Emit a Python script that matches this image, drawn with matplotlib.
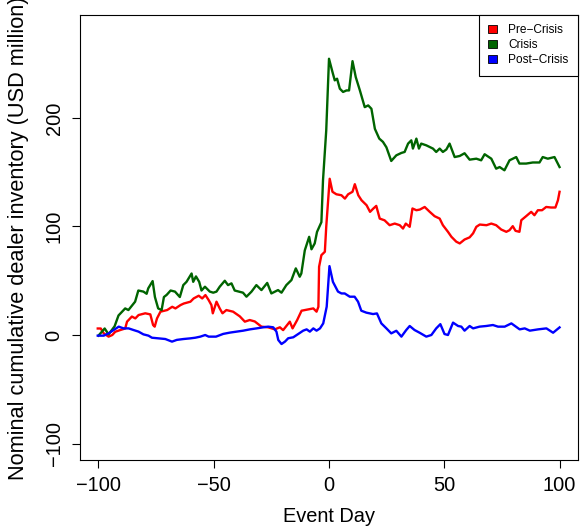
import numpy as np
import matplotlib.pyplot as plt
from matplotlib.patches import Patch

plt.rcParams['font.family'] = ['Liberation Sans', 'DejaVu Sans']

# Crisis (green)
day_c = [-100, -97.3, -95.6, -93, -91.3, -88.4, -87, -84.1, -82.7, -80.5, -79.1, -78.4, -76.5, -75.5,
         -74.1, -72.6, -71.6, -70.4, -68.7, -66.8, -64.7, -63.2, -61.8, -59.6, -58.9, -57.7, -56.3,
         -55.3, -53.8, -51.7, -50.2, -48.8, -47.4, -45.2, -43.8, -42.3, -40.9, -37.3, -35.8, -33.6,
         -31.5, -29.3, -26.8, -25, -22.1, -20.6, -18.5, -16.3, -14.4, -12.7, -12, -10.5, -8.6, -7.6,
         -6.2, -5.2, -3.3, -2.6, -1.2, 0, 1.5, 2.5, 3.5, 4.7, 6.1, 7.6, 8.7, 10.2, 11.6, 13.4, 15.5,
         17, 18.4, 19.9, 21.8, 23.4, 24.9, 27, 29.2, 31.4, 32.8, 34.3, 35.7, 36.4, 37.9, 39, 40, 42.2,
         45.1, 46.5, 48, 49.4, 50.9, 52.3, 54.5, 56.7, 58.8, 61, 63.9, 66, 67.5, 70.4, 72.5, 74, 76.1,
         78.3, 81.2, 82.6, 85.5, 88.4, 91.3, 92.7, 94.9, 97.8, 100]
inv_c = [-0.6, 6, 0.6, 8, 18, 24.5, 23, 30.7, 41, 40, 38, 43, 49.7, 35,
         24.5, 23, 35, 37, 41, 40, 35, 46, 49, 56.7, 49, 54, 49,
         41, 44.5, 40, 39, 40, 44.5, 50, 46, 47.6, 41, 39, 35.3, 40,
         46, 41.4, 48, 38.3, 41.4, 39, 46, 50.6, 61.4, 53.7, 56.7, 78, 90.5, 79,
         84.4, 95, 104, 142.6, 188.6, 254.6, 242.4, 234.7, 236.2, 227, 224, 225.4, 225.4, 252.4, 237.7, 225.4, 210,
         211.6, 208.5, 190, 181, 178, 173, 160.4, 165.6, 167.8, 168.7, 176.4, 179.4, 171.8, 181, 171.8, 176.4, 174.8,
         171.8, 168.7, 171.8, 168.7, 171, 176.4, 164, 165, 167.5, 161.6, 162.5, 161, 166.6, 162.5, 153.3, 154.8, 151.8,
         161, 164, 158, 158, 159, 159, 164, 162.5, 164, 154.8]

# Pre-Crisis (red)
day_p = [-100.3, -99, -97.7, -95.6, -94, -92.7, -90.5, -88.4, -87.6, -85.5, -84, -82.6, -79.7, -77.5,
         -76.3, -75.6, -74.6, -73.1, -70.2, -68, -66.6, -64.4, -63, -60.1, -58.7, -56.5, -55, -53.6,
         -52.2, -51, -50.4, -48.8, -47.4, -46.2, -44.5, -41.6, -38.7, -36.5, -34.4, -32.2, -29.3, -26.4,
         -23.5, -21.3, -19.9, -17, -15.8, -13.8, -11.9, -9, -6.8, -5.4, -4.6, -4.3, -3.3, -1.8, -1.2,
         0.3, 1.5, 3.2, 5.4, 6.9, 8.3, 10.2, 11.2, 12.7, 14.1, 16.3, 17.8, 19.2, 20.5, 22, 24.1, 26.3,
         28.5, 30.7, 32.1, 33.3, 35, 36.2, 37.9, 39.4, 41.5, 43.7, 45.8, 48, 49.4, 51.6, 53.1, 55.2,
         56.7, 58.8, 61, 62.5, 63.9, 65.4, 68.3, 70.4, 72.5, 74.7, 76.9, 78.3, 79.7, 80.9, 82.6, 83.4,
         85.5, 87.7, 89.1, 90.6, 92.4, 94.2, 96.3, 98.2, 99.3, 100]
inv_p = [6, 6, 1.5, -1.5, 0, 3, 4.6, 6, 12.3, 17, 15.3, 18.4, 20, 19,
         9.2, 7.7, 15.3, 21.5, 23, 26, 24.5, 27.6, 29, 30.7, 33.7, 36.2, 33.7, 36.8,
         32.2, 27.6, 20, 30.7, 24.5, 20, 23, 21.5, 17.2, 12.3, 13.8, 12.5, 7.7, 7.1,
         5.2, 7.1, 4.5, 12.3, 6.1, 13.8, 22.4, 23.6, 24.5, 21.5, 26, 62.9, 73.6, 76.7, 99.7,
         144, 132, 129.7, 128.8, 125.7, 129.7, 132, 139, 128.8, 124.2, 119.6, 113.5, 116.5, 119, 107.3, 105.7, 101.2,
         102.7, 101.2, 98.1, 102.7, 99.7, 116.6, 115, 115.6, 118, 113.5, 109.5, 107.3, 101.2, 95.1, 90.5, 86,
         84.4, 88, 90, 93.7, 99.7, 101.8, 101.2, 102.7, 101.2, 97.2, 95.1, 96.6, 100.3, 96, 95.1, 105.8,
         109.5, 113.5, 110.4, 115, 115, 118, 117.5, 117.5, 124.2, 132]

# Post-Crisis (blue)
day_q = [-100.3, -97.7, -95.6, -93.4, -91.2, -89.1, -86.9, -84.8, -82.6, -80.5, -78.3, -76.8, -73.9,
         -71, -68.1, -66, -63.1, -60.2, -58, -55.8, -53.7, -52.2, -49, -45.9, -43, -40.1, -37.2, -34.3,
         -31.4, -28.5, -26.4, -24.2, -22.8, -22, -20.6, -19.1, -17.7, -15.5, -13.3, -11.2, -9.7, -8.3,
         -6.8, -5.4, -3.9, -2.5, -1, 0.2, 1.7, 3.9, 5.4, 6.8, 9, 11.1, 12.6, 14, 16.2, 19.1, 20.8, 22.7,
         24.9, 27, 29.2, 31.4, 33.5, 35, 37.1, 39.3, 42.2, 44.4, 46.5, 48.3, 50.1, 51.6, 53.8, 56, 57.4,
         58.8, 61, 62.5, 65.3, 68.2, 71.1, 73.3, 76.2, 79.1, 82.7, 84.9, 87.1, 90.7, 94.3, 97.2, 100]
inv_q = [-0.6, -0.6, 1.5, 4.6, 7.7, 6.1, 6.1, 4.6, 3.1, 0.6, -0.6, -2.5, -3.1,
         -3.7, -6.1, -4.5, -3.7, -3.1, -2.5, -1.5, 0, -1.5, -1.5, 1, 2.2, 3.1, 4, 5.2,
         6.1, 7.1, 7.7, 7.1, 3.1, -4.6, -8.3, -6.1, -3, -2.1, 1, 4, 5.2, 3.1,
         6.1, 4, 6.1, 10.7, 26.1, 63.5, 49, 40, 38.3, 38.3, 35.3, 35.3, 30.7, 22.4, 20.6, 19.3, 19.9, 10.7,
         6.1, 1.5, 3.9, -1.5, 4.6, 8.3, 4.6, 2.1, -1.5, 0, 6.1, 10, 0.9, 0, 11.4, 8.3, 7.7,
         4, 8.3, 6.1, 7.7, 8.3, 9.2, 7.7, 7.7, 10.7, 5.2, 6.1, 4, 5.2, 6.1, 2.1, 7]

labels = ['Pre\u2212Crisis', 'Crisis', 'Post\u2212Crisis']
colors = ['#FF0000', '#006400', '#0000FF']

fig = plt.figure(figsize=(5.81, 5.30), dpi=100)
ax = fig.add_axes([80/581, 1-460/530, 498/581, (460-14.7)/530])

ax.plot(day_p, inv_p, color=colors[0], lw=1.7)
ax.plot(day_c, inv_c, color=colors[1], lw=1.7)
ax.plot(day_q, inv_q, color=colors[2], lw=1.7)

ax.set_xlim(-108, 108)
ax.set_ylim(-115.2, 295.2)
ax.set_xticks([-100, -50, 0, 50, 100])
ax.set_yticks([-100, 0, 100, 200])
ax.tick_params(direction='out', length=5.8, width=0.8, labelsize=14.4, pad=6)
ax.tick_params(axis='y', labelrotation=90)
for t in ax.get_yticklabels():
    t.set_va('center')
for s in ax.spines.values():
    s.set_linewidth(0.8)

ax.set_xlabel('Event Day', fontsize=14.4, labelpad=8)
fig.text(19/581, 1-238/530, 'Nominal cumulative dealer inventory (USD million)',
         rotation=90, ha='center', va='center', fontsize=15.7)

handles = [Patch(facecolor=c, edgecolor='black', lw=0.6) for c in colors]
leg = ax.legend(handles, labels, loc='upper right', borderaxespad=0, fontsize=8.6,
                fancybox=False, edgecolor='black', framealpha=1,
                handlelength=0.75, handleheight=0.75, handletextpad=0.9,
                labelspacing=0.25, borderpad=0.8)
leg.get_frame().set_linewidth(0.8)

fig.savefig('out.png', dpi=100)
